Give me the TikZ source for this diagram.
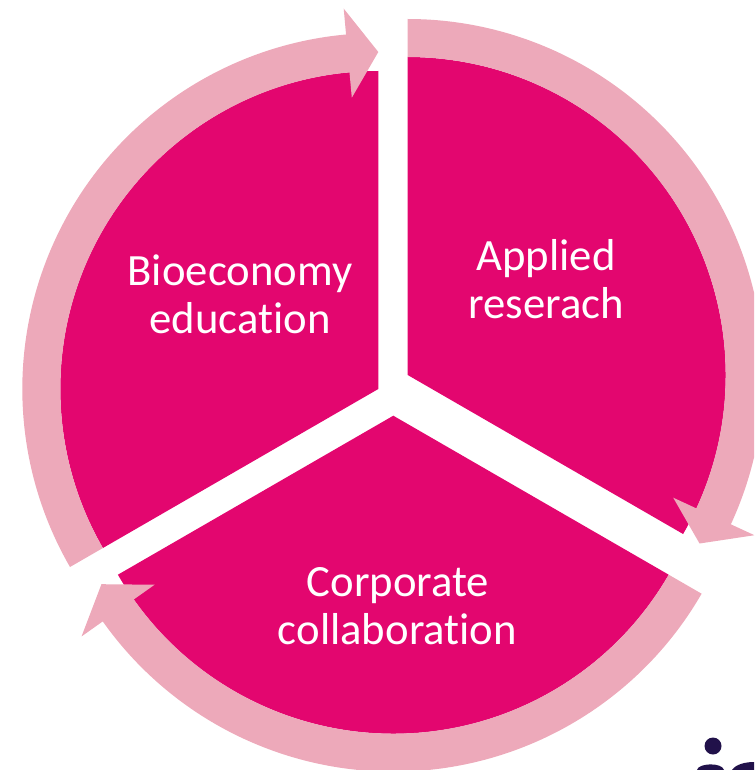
\documentclass[tikz,border=0pt]{standalone}
\usepackage{fontspec}
\setmainfont{Carlito}[Ligatures={NoCommon}]
\definecolor{mag}{RGB}{227,6,111}
\definecolor{pinkband}{RGB}{237,169,186}
\definecolor{navy}{RGB}{33,17,74}
% #1 centre, #2 tail angle, #3 head back angle, #4 tip angle
\newcommand{\cycarrow}[4]{%
  \begin{scope}[shift={(#1)}]
    \fill[band] (#2:356pt) arc[start angle=#2, end angle=#3, radius=356pt]
      -- (#3:382pt) -- (#4:337pt) -- (#3:292.5pt) -- (#3:318pt)
      arc[start angle=#3, end angle=#2, radius=318pt] -- cycle;
  \end{scope}}
\newcommand{\cycwedge}[3]{%
  \fill[wedge] (#1) -- ++(#2:318pt) arc[start angle=#2, end angle=#3, radius=318pt] -- cycle;}
\begin{document}
\begin{tikzpicture}[x=1pt,y=1pt,
  wedge/.style={fill=mag},
  band/.style={fill=pinkband},
  lbl/.style={text=white, font=\fontsize{44.7}{48}\selectfont, anchor=base, inner sep=0pt}]
\useasboundingbox (0,0) rectangle (754,-770);
\clip (0,0) rectangle (754,-770);
\coordinate (cL) at (378.3,-389);
\coordinate (cR) at (407.7,-375);
\coordinate (cB) at (393.3,-415.7);
% wedges
\cycwedge{cL}{90}{210}
\cycwedge{cR}{-30}{90}
\cycwedge{cB}{210}{330}
% circular arrows
\cycarrow{cL}{210}{95.2}{90}
\cycarrow{cR}{90}{-24.8}{-30}
\cycarrow{cB}{330}{215.3}{210}
% labels
\node[lbl] (bio1) at (240,-285) {Bioeconomy};
\node[lbl] (bio2) at (240,-333) {education};
\node[lbl] (app1) at (546,-270) {Applied};
\node[lbl] (app2) at (546,-318) {reserach};
\node[lbl] (cor1) at (398,-596) {Corporate};
\node[lbl] (cor2) at (397.5,-644) {collaboration};
% partial dark glyphs at the bottom right edge
\fill[navy] (713,-746) circle[radius=8.5pt];
\fill[navy] (697,-770) .. controls (698,-763) and (722,-762) .. (724,-770) -- cycle;
\fill[navy] (732,-770) .. controls (736,-764) and (746,-762) .. (754,-762) -- (754,-770) -- cycle;
\end{tikzpicture}
\end{document}
